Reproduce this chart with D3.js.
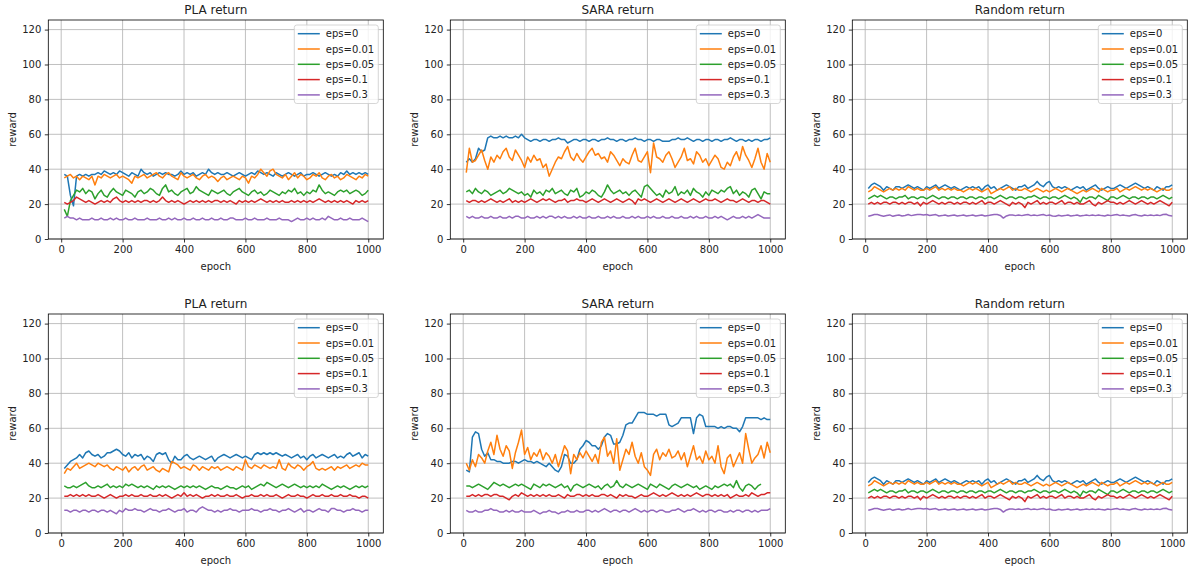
<!DOCTYPE html>
<html lang="en">
<head>
<meta charset="UTF-8">
<title>Returns by eps</title>
<script src="https://d3js.org/d3.v7.min.js"></script>
<style>
  body { margin: 0; background: #fff; }
  svg { display: block; font-family: "DejaVu Sans", sans-serif; }
  .tick text { fill: #222; font-size: 10px; }
  .tick line { stroke: #000; stroke-width: 0.8; }
</style>
</head>
<body>
<div id="chart"></div>
<script>
// epochs shared by every run (one sample every 10 epochs)
var epochs = d3.range(10, 1001, 10);
var xTicks = [0, 200, 400, 600, 800, 1000];
var yTicks = [0, 20, 40, 60, 80, 100, 120];
var labels = ["eps=0", "eps=0.01", "eps=0.05", "eps=0.1", "eps=0.3"];
var colors = ["#1f77b4", "#ff7f0e", "#2ca02c", "#d62728", "#9467bd"];

// ---- PLA return, first run ----
var pla1_e0 = [37,36,25,19,36,37,36,37,36,37, 37,38,37,39,38,37,38,37,39,38,
  37,36,38,37,36,40,38,37,38,36, 37,38,37,38,37,37,36,37,39,37,
  38,37,38,36,37,38,37,40,38,37, 38,37,37,38,37,36,37,38,37,36,
  37,38,37,39,38,37,38,37,36,38, 37,36,37,38,37,36,37,38,36,37,
  37,38,37,36,37,38,37,36,37,36, 38,37,39,37,38,37,38,37,38,37];
var pla1_e001 = [35,36,37,35,36,34,36,35,34,36, 31,36,35,37,36,35,36,37,35,36,
  35,34,32,36,35,36,37,35,36,37, 38,36,35,37,38,36,35,34,38,36,
  35,36,37,35,34,36,37,35,36,35, 33,35,36,34,35,36,35,34,36,35,
  32,36,35,37,40,38,36,39,40,37, 36,35,37,34,36,38,35,37,36,34,
  35,37,36,38,35,34,36,37,35,36, 34,35,37,36,35,34,36,35,37,36];
var pla1_e005 = [17,13,22,25,28,27,29,26,28,27, 23,26,28,25,24,27,29,27,26,25,
  28,27,26,24,27,28,26,27,29,28, 26,25,29,31,27,28,26,25,27,28,
  29,26,27,30,28,27,26,25,28,27, 26,27,28,26,25,27,28,29,27,26,
  25,27,28,26,27,25,26,28,27,26, 25,27,26,28,27,29,26,27,25,27,
  26,28,27,31,28,26,27,26,25,27, 28,27,28,26,27,28,27,25,26,28];
var pla1_e01 = [21,20,21,22,24,23,22,21,22,21, 20,21,22,21,22,21,23,24,22,21,
  22,21,22,21,22,21,22,22,21,22, 21,22,24,22,21,22,21,22,21,20,
  21,22,21,22,21,22,21,22,21,22, 22,21,22,21,22,21,20,22,21,22,
  21,22,21,22,23,22,21,22,21,22, 21,22,21,21,22,21,22,21,22,21,
  22,21,22,23,22,21,22,21,22,21, 22,21,22,21,20,22,21,22,21,22];
var pla1_e03 = [12,13,12,12,11,12,11,11,11,12, 11,11,12,11,11,12,11,12,11,11,
  12,11,11,12,11,11,11,12,11,11, 11,12,11,11,12,11,12,11,11,12,
  11,11,12,11,11,12,11,11,12,11, 11,12,11,11,12,12,11,11,11,12,
  11,11,12,11,11,11,12,11,11,11, 12,11,11,11,10,11,12,11,11,12,
  11,12,11,11,12,11,13,12,11,11, 12,11,11,12,11,11,11,12,11,10];

// ---- SARA return, first run ----
var sara1_e0 = [44,46,44,46,52,50,51,58,59,58, 58,59,58,59,58,58,59,58,60,58,
  57,56,57,57,56,57,57,56,57,57, 58,57,57,55,56,57,57,56,57,57,
  56,57,57,56,57,57,58,57,57,56, 57,57,56,57,57,58,57,57,56,57,
  57,56,57,57,56,56,56,57,57,58, 57,57,58,57,56,57,57,56,57,57,
  56,57,57,56,57,57,58,57,56,57, 57,56,57,56,57,57,56,57,57,58];
var sara1_e001 = [38,52,44,45,48,51,45,40,47,44, 48,46,50,52,47,45,51,48,45,41,
  47,44,48,45,46,41,43,36,40,44, 47,46,50,53,47,45,49,46,44,47,
  50,52,48,49,46,47,44,50,48,45, 42,46,44,43,48,52,45,44,47,50,
  38,55,47,46,44,48,50,46,41,44, 47,52,45,46,43,50,48,44,46,42,
  45,48,46,41,40,44,42,47,50,45, 53,48,45,41,46,52,44,40,49,44];
var sara1_e005 = [27,28,26,29,27,26,28,27,25,26, 27,28,26,27,29,28,27,26,27,25,
  26,24,28,26,27,25,28,27,29,26, 27,28,26,25,28,27,29,24,25,27,
  26,28,27,25,24,27,31,28,26,27, 28,26,27,25,27,28,26,24,30,31,
  29,27,25,26,24,28,26,27,30,25, 27,26,28,25,29,27,26,24,27,25,
  28,27,26,28,27,29,30,26,28,25, 27,26,24,28,29,26,23,27,26,26];
var sara1_e01 = [22,21,22,22,21,22,21,22,23,22, 21,22,21,22,23,21,22,21,22,21,
  22,23,22,21,22,23,22,23,22,21, 22,22,23,21,22,22,23,22,22,21,
  22,23,22,21,22,23,22,21,22,23, 22,21,22,23,22,20,23,22,23,22,
  21,22,23,22,21,22,23,22,21,22, 23,22,21,22,23,22,21,22,23,22,
  22,23,22,21,22,23,22,22,21,22, 23,22,21,22,22,21,22,22,21,20];
var sara1_e03 = [13,12,13,12,12,13,12,12,13,12, 12,13,12,12,13,12,13,13,12,12,
  13,12,12,13,12,13,12,13,13,12, 13,12,13,12,12,13,12,13,12,12,
  13,12,12,13,12,12,13,12,13,12, 12,13,12,12,13,12,13,12,12,13,
  12,13,12,12,13,12,12,13,12,12, 13,12,12,13,12,13,12,12,13,12,
  12,13,12,13,12,11,12,13,12,12, 13,12,13,12,13,14,13,12,12,12];

// ---- Random return (both runs look identical) ----
var rand_e0 = [29,31,32,31,30,28,30,29,28,30, 30,29,30,31,30,29,30,29,28,30,
  29,30,31,29,30,31,30,29,30,29, 28,29,30,29,30,29,30,28,30,31,
  29,30,28,29,30,31,30,29,28,30, 30,31,29,30,31,33,31,30,32,33,
  30,29,30,29,30,29,28,29,30,29, 30,28,29,30,31,29,28,29,30,29,
  29,30,31,30,29,30,31,32,31,30, 29,30,29,28,30,29,28,30,30,31];
var rand_e001 = [27,28,30,29,28,27,28,29,28,29, 28,29,28,30,29,28,29,28,28,29,
  28,29,30,28,29,28,29,28,29,28, 28,27,28,29,28,29,28,27,28,29,
  26,27,28,29,28,29,30,28,29,28, 28,29,28,27,28,29,28,27,28,27,
  28,29,28,27,28,29,28,27,26,27, 28,27,28,29,28,27,29,28,27,28,
  28,29,27,28,29,28,29,30,29,28, 29,28,29,28,27,28,29,28,28,29];
var rand_e005 = [23,24,25,24,25,24,23,24,24,23, 24,24,25,23,24,24,23,24,24,23,
  24,25,24,23,24,24,23,24,24,23, 24,24,23,24,24,23,24,24,23,24,
  24,23,24,25,24,23,24,24,23,24, 24,23,24,24,25,24,23,24,24,23,
  24,24,23,24,25,24,23,24,23,21, 24,23,24,24,23,25,24,23,22,24,
  24,23,24,25,24,23,24,24,23,24, 24,23,24,24,23,24,25,24,23,24];
var rand_e01 = [20,21,20,21,20,21,21,20,21,21, 20,21,20,21,21,20,21,19,21,20,
  21,22,21,20,21,20,21,21,20,21, 20,21,21,20,21,20,21,22,20,21,
  21,20,21,22,21,20,19,21,20,21, 20,18,21,20,21,22,20,21,20,21,
  21,20,21,22,20,21,21,20,21,20, 20,21,22,20,19,21,20,21,22,21,
  21,20,21,20,21,22,21,20,21,22, 21,20,21,20,21,22,21,20,19,21];
var rand_e03 = [13,13.5,14,14,13.5,13,13.5,13.8,13,13.5, 13.8,13.2,13.5,14,13.4,13.8,14,14,13.8,14,
  13.5,13.8,14,13.2,13.4,13.8,13.2,13.5,13.8,13.2, 13.4,13.8,13.2,13.4,13.8,13.2,13.5,13.8,13.2,13.4,
  13.8,14,14,13.5,12,13.2,13.8,13.8,13.4,13.8, 13.4,13.8,14,13.4,13.8,13.4,13.8,14,13.4,13.8,
  13.2,13,13.6,13.2,13.4,13.8,13.2,13.4,13.8,13.2, 13.4,13.8,13.4,13.8,13.4,13.8,13.4,13.2,13.8,13.4,
  13.8,14,13.4,13.8,13.4,13.2,13.8,14,13.4,13.2, 13.8,13.4,13.8,13.4,13.8,13.4,14,14.2,13.4,13.2];

// ---- PLA return, second run ----
var pla2_e0 = [37,39,41,42,43,45,43,46,47,45, 44,45,43,44,46,46,47,48,47,45,
  44,46,43,45,44,45,42,44,43,41, 45,46,45,46,42,40,44,42,42,44,
  45,43,42,43,44,43,42,43,44,41, 43,44,45,44,43,44,45,44,43,44,
  43,42,45,46,45,46,45,46,45,46, 45,44,45,44,43,44,45,43,44,42,
  44,45,43,44,45,44,43,44,45,43, 44,43,45,46,44,45,46,43,45,44];
var pla2_e001 = [34,37,36,38,40,37,38,39,40,39, 38,40,39,38,39,37,36,38,37,36,
  38,35,37,38,36,38,39,36,37,38, 36,35,37,36,35,41,40,39,37,38,
  37,36,39,38,36,38,37,36,38,37, 38,36,37,38,37,36,38,37,36,42,
  38,37,39,38,37,39,38,37,38,37, 42,37,36,40,38,37,39,38,36,38,
  39,41,37,36,37,36,37,38,36,38, 37,38,39,37,38,39,38,40,39,39];
var pla2_e005 = [27,26,26,27,26,27,28,29,27,26, 26,27,26,27,28,26,27,26,27,26,
  28,27,28,27,26,27,26,27,26,25, 27,26,27,26,27,26,25,26,27,26,
  27,26,27,26,27,26,25,26,27,26, 26,25,26,27,26,26,25,26,27,26,
  27,25,26,27,28,27,29,28,27,26, 27,28,27,26,27,28,27,26,27,26,
  27,26,27,26,28,27,26,25,26,27, 26,27,26,25,26,27,26,27,26,27];
var pla2_e01 = [21,21,22,21,22,21,22,21,22,21, 21,22,21,20,21,22,21,20,21,21,
  22,21,22,21,21,22,21,21,22,21, 21,22,21,22,21,20,21,22,21,23,
  21,22,21,22,21,20,21,21,22,21, 22,21,21,22,21,21,22,21,20,21,
  21,22,21,21,22,21,22,21,21,22, 21,20,21,22,21,21,22,21,21,20,
  21,22,21,21,22,21,21,22,21,21, 22,21,21,22,21,21,20,21,21,20];
var pla2_e03 = [13,13,12,13,13,12,13,13,12,13, 13,12,13,13,12,13,12,11,13,12,
  14,13,13,14,13,13,12,13,14,13, 13,12,13,13,14,13,12,13,13,14,
  12,13,13,12,14,15,14,13,13,12, 13,12,13,13,14,13,13,12,13,13,
  13,14,13,13,12,13,13,14,13,13, 12,13,13,14,13,12,13,14,12,13,
  13,12,13,14,13,13,12,14,14,13, 13,12,13,13,14,13,13,12,13,13];

// ---- SARA return, second run ----
var sara2_e0 = [36,35,55,58,57,48,44,46,42,42, 41,41,40,40,40,41,41,40,41,42,
  41,41,40,41,40,39,38,40,38,36, 35,38,45,44,40,40,42,48,50,53,
  52,50,50,48,50,55,57,56,51,51, 52,56,62,63,63,66,69,69,69,68,
  68,68,67,68,68,68,62,61,62,63, 66,66,66,66,57,66,68,67,61,61,
  61,61,60,61,60,61,61,60,60,58, 61,66,66,66,66,66,65,66,65,65];
var sara2_e001 = [40,36,42,38,45,43,40,47,52,45, 56,48,44,50,47,37,46,52,59,45,
  49,42,46,44,48,42,46,44,40,45, 38,44,50,47,34,45,42,46,43,47,
  44,41,45,40,52,55,44,47,40,54, 36,42,48,45,52,44,40,46,38,36,
  33,45,48,42,46,44,48,43,44,47, 42,46,38,44,50,42,44,40,47,42,
  44,40,50,38,34,43,45,38,42,46, 40,57,48,40,43,45,50,43,52,46];
var sara2_e005 = [27,27,26,27,28,27,26,25,27,29, 28,27,28,27,26,27,28,27,28,27,
  26,25,28,27,26,28,27,28,27,26, 27,28,26,27,24,27,28,27,26,27,
  28,27,26,27,25,27,28,26,27,30, 27,26,28,27,26,27,28,27,26,25,
  28,27,26,28,27,26,25,27,28,27, 26,27,28,27,26,27,25,26,27,26,
  25,27,26,27,28,27,28,26,30,26, 24,27,28,27,25,27,28];
var sara2_e01 = [21,21,22,21,22,21,22,22,21,22, 22,21,21,20,19,21,22,21,23,22,
  21,22,21,22,21,22,21,22,21,21, 22,21,20,22,21,21,22,22,21,22,
  21,22,21,21,22,22,21,22,21,20, 22,21,22,21,21,20,21,22,21,21,
  22,23,22,21,22,21,22,23,22,21, 22,21,22,21,22,23,22,21,22,22,
  21,22,21,22,21,22,20,21,22,21, 21,22,21,23,22,21,22,22,23,23];
var sara2_e03 = [13,12,12,13,12,12,13,13,14,13, 13,12,12,13,12,13,12,12,13,12,
  12,12,13,12,11,12,12,13,12,12, 11,12,12,13,12,12,13,12,12,13,
  13,12,13,12,13,14,13,12,13,13, 12,13,13,12,13,14,13,12,13,12,
  13,13,12,13,13,12,12,13,13,14, 13,12,13,13,14,13,12,13,12,13,
  13,12,13,13,12,12,13,12,13,13, 12,13,13,12,13,12,13,13,13,14];

var panels = [
  { title: "PLA return",    left: 48.3,  top: 20,  runs: [pla1_e0, pla1_e001, pla1_e005, pla1_e01, pla1_e03] },
  { title: "SARA return",   left: 450.3, top: 20,  runs: [sara1_e0, sara1_e001, sara1_e005, sara1_e01, sara1_e03] },
  { title: "Random return", left: 852.3, top: 20,  runs: [rand_e0, rand_e001, rand_e005, rand_e01, rand_e03] },
  { title: "PLA return",    left: 48.3,  top: 314, runs: [pla2_e0, pla2_e001, pla2_e005, pla2_e01, pla2_e03] },
  { title: "SARA return",   left: 450.3, top: 314, runs: [sara2_e0, sara2_e001, sara2_e005, sara2_e01, sara2_e03] },
  { title: "Random return", left: 852.3, top: 314, runs: [rand_e0, rand_e001, rand_e005, rand_e01, rand_e03] }
];

var width = 335, height = 219;

var svg = d3.select("#chart").append("svg")
  .attr("width", 1189)
  .attr("height", 569);

var defs = svg.append("defs");
defs.append("clipPath").attr("id", "plotClip")
  .append("rect").attr("width", width).attr("height", height);

panels.forEach(function(p) {
  var g = svg.append("g").attr("transform", "translate(" + p.left + "," + p.top + ")");

  var x = d3.scaleLinear().domain([-42, 1049]).range([0, width]);
  var y = d3.scaleLinear().domain([0, 125.5]).range([height, 0]);

  // grid
  g.selectAll(".gx").data(xTicks).enter().append("line")
    .attr("x1", function(d) { return x(d); }).attr("x2", function(d) { return x(d); })
    .attr("y1", 0).attr("y2", height)
    .attr("stroke", "#b0b0b0").attr("stroke-width", 0.8);
  g.selectAll(".gy").data(yTicks).enter().append("line")
    .attr("y1", function(d) { return y(d); }).attr("y2", function(d) { return y(d); })
    .attr("x1", 0).attr("x2", width)
    .attr("stroke", "#b0b0b0").attr("stroke-width", 0.8);

  // lines
  var line = d3.line()
    .x(function(d, i) { return x(epochs[i]); })
    .y(function(d) { return y(d); });
  var plot = g.append("g").attr("clip-path", "url(#plotClip)");
  p.runs.forEach(function(run, k) {
    plot.append("path")
      .datum(run)
      .attr("fill", "none")
      .attr("stroke", colors[k])
      .attr("stroke-width", 1.5)
      .attr("stroke-linejoin", "round")
      .attr("d", line);
  });

  // axes
  var xAxis = g.append("g").attr("transform", "translate(0," + height + ")")
    .call(d3.axisBottom(x).tickValues(xTicks).tickFormat(d3.format("d")).tickSize(3.5).tickPadding(3.5));
  var yAxis = g.append("g")
    .call(d3.axisLeft(y).tickValues(yTicks).tickFormat(d3.format("d")).tickSize(3.5).tickPadding(3.5));
  xAxis.select(".domain").remove();
  yAxis.select(".domain").remove();
  xAxis.selectAll("text").attr("font-family", "DejaVu Sans");
  yAxis.selectAll("text").attr("font-family", "DejaVu Sans");

  // frame
  g.append("rect")
    .attr("width", width).attr("height", height)
    .attr("fill", "none").attr("stroke", "#000").attr("stroke-width", 0.8);

  // title and axis labels
  g.append("text")
    .attr("x", width / 2).attr("y", -6)
    .attr("text-anchor", "middle")
    .attr("font-size", 12).attr("fill", "#222")
    .text(p.title);
  g.append("text")
    .attr("x", width / 2).attr("y", height + 30.5)
    .attr("text-anchor", "middle")
    .attr("font-size", 10).attr("fill", "#222")
    .text("epoch");
  g.append("text")
    .attr("transform", "translate(" + (-32.5) + "," + (height / 2) + ") rotate(-90)")
    .attr("text-anchor", "middle")
    .attr("font-size", 10).attr("fill", "#222")
    .text("reward");

  // legend
  var lg = g.append("g").attr("transform", "translate(" + (width - 89) + ",5)");
  lg.append("rect")
    .attr("width", 84).attr("height", 78.5)
    .attr("rx", 2.5).attr("ry", 2.5)
    .attr("fill", "rgba(255,255,255,0.8)")
    .attr("stroke", "#cccccc").attr("stroke-width", 0.8);
  labels.forEach(function(lab, k) {
    var ly = 8.7 + k * 15.3;
    lg.append("line")
      .attr("x1", 3.5).attr("x2", 25.5)
      .attr("y1", ly).attr("y2", ly)
      .attr("stroke", colors[k]).attr("stroke-width", 1.5);
    lg.append("text")
      .attr("x", 31.5).attr("y", ly).attr("dy", "0.35em")
      .attr("font-size", 10).attr("fill", "#222")
      .text(lab);
  });
});
</script>
</body>
</html>
